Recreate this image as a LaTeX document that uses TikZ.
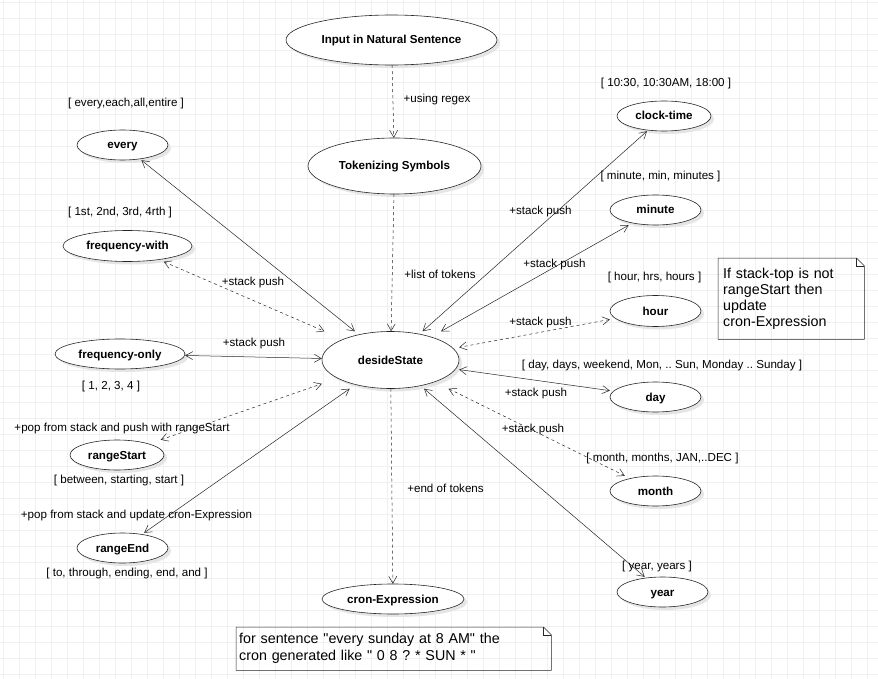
\documentclass[tikz,border=0pt]{standalone}
\usepackage{fontspec}
\setmainfont{Liberation Sans}
\newfontfamily\notefont{Liberation Sans}
\usetikzlibrary{arrows.meta,shadows,shapes.geometric}
\frenchspacing

\newcommand{\lblsize}{\fontsize{11.6}{14}\selectfont}
\newcommand{\notesize}{\notefont\fontsize{14.3}{16}\selectfont}

\tikzset{
  >={Straight Barb[length=7pt,width=8pt]},
  gridline/.style={draw=black!6, line width=1pt},
  stateshape/.style={ellipse, draw=black!85, line width=0.6pt, fill=white, inner sep=0pt,
    font=\lblsize\bfseries, text height=10pt, text depth=2pt,
    drop shadow={shadow xshift=3pt, shadow yshift=-3pt, fill=black!10, opacity=1}},
  % invisible box (used by the connectors) with the ellipse on top
  state/.style n args={3}{rectangle, inner sep=0pt, minimum width=#1, minimum height=#2,
    append after command={node[stateshape, minimum width=#1, minimum height=#2]
      at (\tikzlastnode.center) {#3}}},
  txt/.style={font=\lblsize, inner sep=0pt},
  link/.style={draw=black!85, line width=0.5pt},
  dashlink/.style={link, dash pattern=on 3pt off 3pt},
  notebox/.style={align=left, anchor=north west, inner ysep=0pt}
}

\begin{document}
\begin{tikzpicture}[x=1pt,y=-1pt]
\useasboundingbox[fill=white] (0,0) rectangle (878,679);
% background grid
\foreach \gx in {3.3,19.3,...,878} \draw[gridline] (\gx,0) -- (\gx,679);
\foreach \gy in {2.3,18.3,...,679} \draw[gridline] (0,\gy) -- (878,\gy);

% states
\node[state={211pt}{50pt}{Input in Natural Sentence}] (input) at (391.5,40) {};
\node[state={173pt}{56pt}{Tokenizing Symbols}] (tokens) at (394.5,166) {};
\node[state={137pt}{57pt}{desideState}] (decide) at (390.5,360) {};
\node[state={142pt}{30pt}{cron-Expression}] (cron) at (393,599) {};
\node[state={91pt}{30pt}{every}] (every) at (122.5,145) {};
\node[state={129pt}{31pt}{frequency-with}] (freqwith) at (127.5,246) {};
\node[state={130pt}{30pt}{frequency-only}] (freqonly) at (120,354) {};
\node[state={94pt}{30pt}{rangeStart}] (rangestart) at (117,455) {};
\node[state={91pt}{30pt}{rangeEnd}] (rangeend) at (122.5,548) {};
\node[state={94pt}{30pt}{clock-time}] (clock) at (664,116) {};
\node[state={91pt}{30pt}{minute}] (minute) at (655.5,210) {};
\node[state={91pt}{31pt}{hour}] (hour) at (655.5,311) {};
\node[state={91pt}{30pt}{day}] (day) at (655.5,397) {};
\node[state={91pt}{30pt}{month}] (month) at (655.5,491) {};
\node[state={91pt}{30pt}{year}] (year) at (662.5,592) {};

% connectors
\draw[dashlink,->] (input) -- (tokens);
\draw[dashlink,->] (tokens) -- (decide);
\draw[dashlink,->] (decide) -- (cron);
\draw[link,<->] (every) -- (decide);
\draw[dashlink,<->] (freqwith) -- (decide);
\draw[link,<->] (freqonly) -- (decide);
\draw[dashlink,<->] (rangestart) -- (decide);
\draw[link,<->] (rangeend) -- (decide);
\draw[link,<->] (clock) -- (decide);
\draw[link,<->] (minute) -- (decide);
\draw[dashlink,<->] (hour) -- (decide);
\draw[link,<->] (day) -- (decide);
\draw[dashlink,<->] (month) -- (decide);
\draw[link,<->] (year) -- (decide);

% keyword lists
\node[txt] (everywords) at (126,104) {[ every,each,all,entire ]};
\node[txt] (freqwithwords) at (120,213) {[ 1st, 2nd, 3rd, 4rth ]};
\node[txt] (freqonlywords) at (111,386) {[ 1, 2, 3, 4 ]};
\node[txt] (startwords) at (119,480) {[ between, starting, start ]};
\node[txt] (endwords) at (127,573) {[ to, through, ending, end, and ]};
\node[txt] (clockwords) at (666,84) {[ 10:30, 10:30AM, 18:00 ]};
\node[txt] (minutewords) at (660.5,177) {[ minute, min, minutes ]};
\node[txt] (hourwords) at (654.5,278) {[ hour, hrs, hours ]};
\node[txt] (daywords) at (662,365) {[ day, days, weekend, Mon, .. Sun, Monday .. Sunday ]};
\node[txt] (monthwords) at (662.5,458) {[ month, months, JAN,..DEC ]};
\node[txt] (yearwords) at (657,566) {[ year, years ]};

% connector labels
\node[txt] (regexlbl) at (437,100) {+using regex};
\node[txt] (tokenlbl) at (440,274) {+list of tokens};
\node[txt] (endlbl) at (445.5,488) {+end of tokens};
\node[txt] (pushwith) at (253,283) {+stack push};
\node[txt] (pushonly) at (254,343) {+stack push};
\node[txt] (popstart) at (122,428) {+pop from stack and push with rangeStart};
\node[txt] (popend) at (136.5,515) {+pop from stack and update cron-Expression};
\node[txt] (pushclock) at (540.5,212) {+stack push};
\node[txt] (pushminute) at (554.5,265) {+stack push};
\node[txt] (pushhour) at (540.5,322) {+stack push};
\node[txt] (pushday) at (536,393) {+stack push};
\node[txt] (pushmonth) at (533,429) {+stack push};

% notes
\node[notebox, font=\notesize, minimum width=146pt, minimum height=81pt, text width=136pt, inner xsep=5pt]
  (stacknote) at (718,258) {If stack-top is not\\rangeStart then\\update\\cron-Expression};
\draw[link] (stacknote.north west) -- ([xshift=-8pt]stacknote.north east)
  -- ([yshift=-8pt]stacknote.north east) -- (stacknote.south east) -- (stacknote.south west) -- cycle;
\draw[link] ([xshift=-8pt]stacknote.north east) -- ([xshift=-8pt,yshift=-8pt]stacknote.north east)
  -- ([yshift=-8pt]stacknote.north east);

\node[notebox, font=\notefont\fontsize{14.3}{17}\selectfont, minimum width=315pt, minimum height=43pt, text width=309pt, inner xsep=3pt]
  (cronnote) at (236,627) {for sentence "every sunday at 8 AM" the\\cron generated like " 0 8 ? * SUN * "};
\draw[link] (cronnote.north west) -- ([xshift=-8pt]cronnote.north east)
  -- ([yshift=-8pt]cronnote.north east) -- (cronnote.south east) -- (cronnote.south west) -- cycle;
\draw[link] ([xshift=-8pt]cronnote.north east) -- ([xshift=-8pt,yshift=-8pt]cronnote.north east)
  -- ([yshift=-8pt]cronnote.north east);
\end{tikzpicture}
\end{document}
